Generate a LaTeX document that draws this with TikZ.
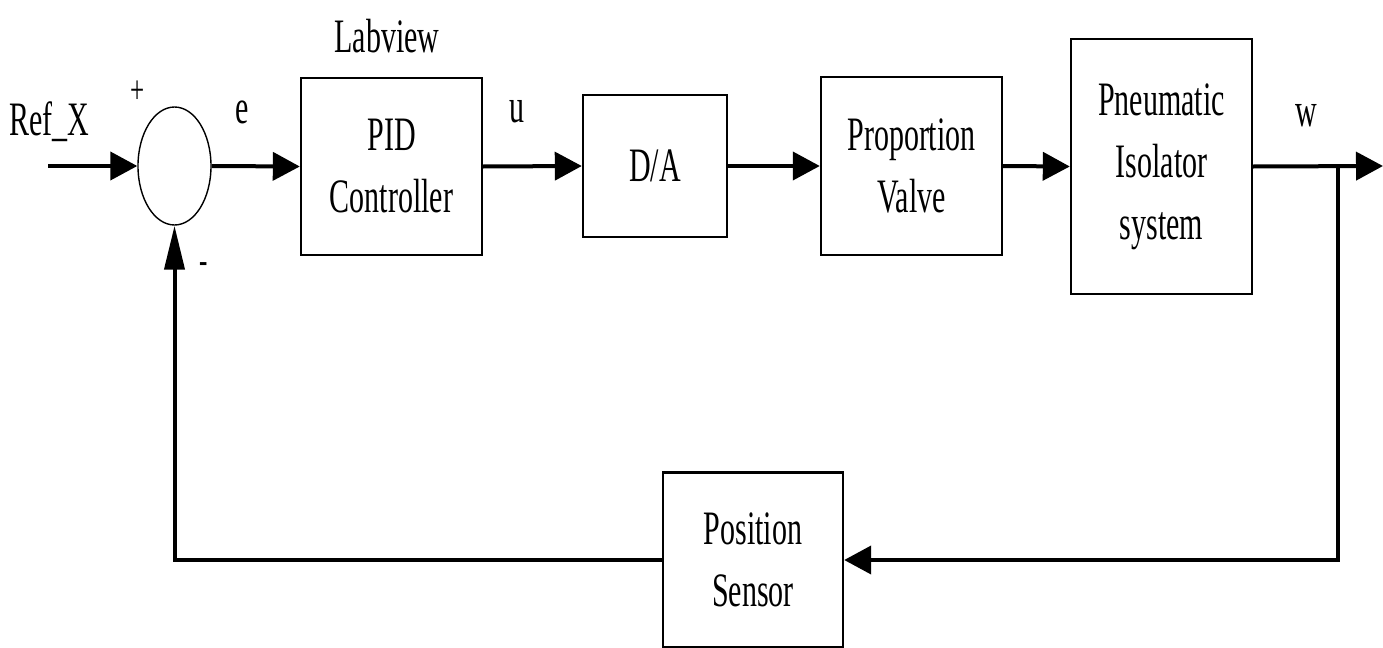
\documentclass[tikz,border=0pt]{standalone}
\usepackage{fontspec}
\setmainfont{Liberation Serif}[FakeStretch=0.625]
\usetikzlibrary{arrows.meta,shapes.geometric}

\tikzset{
  block/.style={draw, line width=1.2pt, inner sep=0pt, align=center,
    font=\fontsize{24}{31}\selectfont},
  sumjunction/.style={draw, ellipse, line width=0.7pt, inner sep=0pt,
    minimum width=36.5pt, minimum height=59pt},
  signal/.style={line width=2pt, -{Triangle[length=13.5pt,width=14pt]}},
  upsignal/.style={line width=2pt, -{Triangle[length=22pt,width=10pt]}},
  wire/.style={line width=2pt},
  lbl/.style={inner sep=0pt, font=\fontsize{24}{28}\selectfont},
  sign/.style={inner sep=0pt, font=\fontsize{20}{24}\selectfont}
}

\begin{document}
\begin{tikzpicture}[x=0.5pt,y=-0.5pt]
  \useasboundingbox (0,0) rectangle (1383,648);

  % forward path blocks
  \node[sumjunction] (sum) at (174.5,166) {};
  \node[block, minimum width=90.5pt, minimum height=88.5pt] (pid) at (391.5,166.5) {PID\\Controller};
  \node[block, minimum width=72pt, minimum height=71pt] (da) at (655,166) {D/A};
  \node[block, minimum width=90.5pt, minimum height=89pt] (valve) at (911.5,166) {Proportion\\Valve};
  \node[block, minimum width=90.5pt, minimum height=127.5pt] (plant) at (1161.5,166.5) {Pneumatic\\Isolator\\system};

  % feedback block
  \node[block, minimum width=90pt, minimum height=87.5pt] (sensor) at (753,560) {Position\\Sensor};

  % free ends and branch point
  \coordinate (in) at (48,166);
  \coordinate (out) at (1383,166);
  \coordinate (branch) at (1338,166);

  % signal labels
  \node[lbl, anchor=base] (reflbl) at (49,135) {Ref\_X};
  \node[lbl, anchor=base] (ctrllbl) at (387,52) {Labview};
  \node[lbl] (elbl) at (242,112) {e};
  \node[lbl] (ulbl) at (517,112) {u};
  \node[lbl] (wlbl) at (1306,116) {w};
  \node[sign] (plus) at (138,92) {+};
  \node[sign] (minus) at (204,268) {-};

  % forward connections
  \draw[signal] (in) -- (sum.west);
  \draw[signal] (sum.east) -- (pid.west);
  \draw[signal] (pid.east) -- (da.west);
  \draw[signal] (da.east) -- (valve.west);
  \draw[signal] (valve.east) -- (plant.west);
  \draw[signal] (plant.east) -- (out);

  % feedback loop
  \draw[signal] (branch) |- (sensor.east);
  \draw[upsignal] (sensor.west) -| (sum.south);
\end{tikzpicture}
\end{document}
